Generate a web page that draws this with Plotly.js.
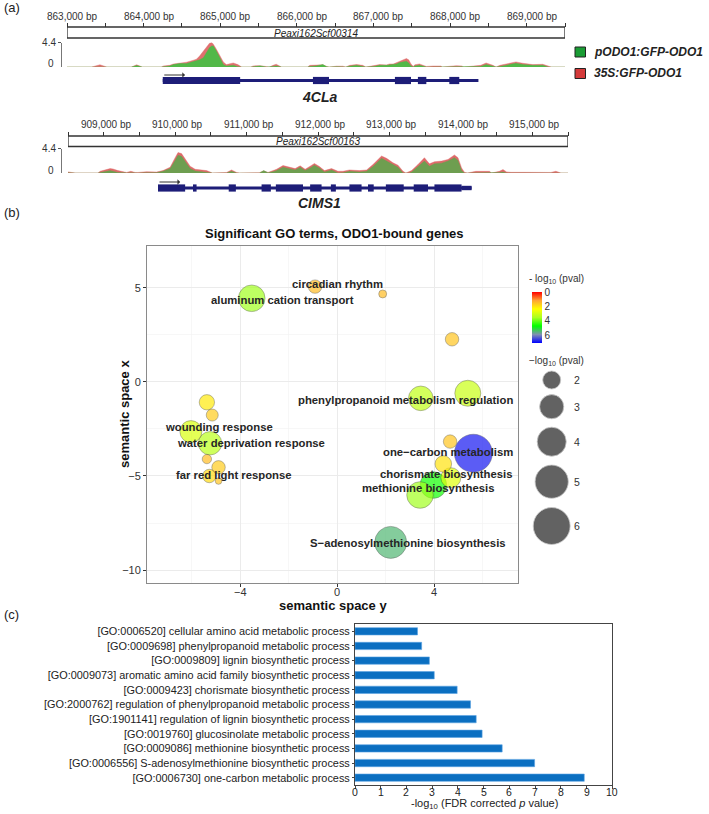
<!DOCTYPE html>
<html><head><meta charset="utf-8">
<script src="https://cdn.plot.ly/plotly-3.0.1.min.js"></script>
<style>html,body{margin:0;padding:0;background:#fff}#chart{width:709px;height:814px}</style>
</head><body><div id="chart"></div>
<script>
// ---------------- Panel (a) data ----------------
const tickValsA = [863000,864000,865000,866000,867000,868000,869000];
const tickTextA = ['863,000 bp','864,000 bp','865,000 bp','866,000 bp','867,000 bp','868,000 bp','869,000 bp'];
const tickValsB = [909000,910000,911000,912000,913000,914000,915000];
const tickTextB = ['909,000 bp','910,000 bp','911,000 bp','912,000 bp','913,000 bp','914,000 bp','915,000 bp'];
const scaffoldA = 'Peaxi162Scf00314';
const scaffoldB = 'Peaxi162Scf00163';
const geneA = '4CLa';
const geneB = 'CIMS1';
const seriesNames = ['pODO1:GFP-ODO1','35S:GFP-ODO1'];

const posA = [863000,863320,863430,863520,863840,863910,863980,864230,864260,864290,864340,864390,864470,864560,864650,864690,864730,864780,864820,864860,864890,864910,864950,865000,865040,865080,865120,865170,865230,865280,865400,865430,865520,865600,865640,865690,865730,865800,866140,866170,866250,866340,866390,866420,866520,866600,866640,866690,866780,866860,866900,867010,867080,867170,867210,867260,867300,867340,867390,867430,867460,867490,867520,867540,867600,867650,867690,867780,867880,867900,868010,868080,868150,868180,868400,868470,868560,868600,868650,868730,868860,868950,869080,869210,869280,869320,869500];
const redA = [0,0,.4,0,0,.4,0,0,.2,.2,.3,.55,.73,.86,1.22,1.41,1.96,2.87,3.48,4.28,4.4,4.09,3.18,1.96,.92,.43,.61,.73,.43,0,0,.2,.24,.15,0,.3,.5,0,0,.3,.35,.4,.1,0,.15,.15,0,.3,.45,.3,0,.25,.43,.37,.55,.55,.79,1.04,1.22,1.53,1.28,.55,.1,.4,.55,.3,.1,.18,.18,0,.2,.24,.2,0,.3,.73,.3,0,.3,.55,.92,.67,.43,.49,.1,0,0];
const greenA = [0,0,.1,0,0,.25,0,0,.1,.1,.18,.43,.61,.61,.98,1.16,1.28,1.65,2.57,3.48,3.79,3.79,2.87,1.65,.43,.18,.18,.31,.06,0,0,.05,.2,0,0,.1,.2,0,0,.1,.2,.43,.05,0,.05,.05,0,.15,.31,.1,0,.1,.31,.31,.37,.37,.55,.79,.92,1.04,.73,.18,0,.2,.31,.1,0,0,0,0,.05,.1,0,0,.1,.43,.1,0,.1,.3,.67,.43,.3,.31,0,0,0];

const posB = [908500,908600,908920,908950,909090,909130,909200,909300,909320,909380,909440,909480,909600,909720,909740,909830,909930,910000,910040,910090,910140,910210,910280,910350,910440,910490,910520,910720,910790,910860,910900,911180,911240,911300,911370,911420,911510,911600,911680,911750,911820,911890,911950,912020,912090,912190,912280,912350,912440,912580,912680,912770,912890,912960,913050,913120,913190,913230,913280,913310,913400,913490,913560,913630,913730,913820,913910,913960,914010,914050,914090,914210,914400,914430,914540,914590,914640,914700,914900,915100,915130,915260,915330,915400,915500];
const redB = [.2,0,0,.31,.79,.73,.43,.24,.1,.31,.1,.1,.24,.2,.18,.43,1.04,2.75,3.67,3.48,2.44,1.22,.67,.55,.43,.18,0,.1,.55,.1,0,.05,.37,.1,.43,.67,1.34,1.04,.79,1.28,.67,1.22,1.71,1.16,.43,.79,.31,.31,.55,.43,.55,1.53,3.06,2.63,1.83,1.41,.31,0,.2,.43,1.53,2.75,1.65,2.02,2.14,2.44,3.24,2.75,.92,.12,0,.3,.3,0,.3,.61,.2,.12,.12,.12,0,.1,.31,0,0];
const greenB = [.05,0,0,.1,.43,.3,.1,.05,0,.05,0,0,.05,0,.06,.31,.79,2.26,3.18,2.99,2.02,.79,.37,.24,.18,0,0,0,.31,0,0,0,.43,.05,.24,.43,1.04,.79,.55,1.04,.43,.92,1.41,.92,.18,.55,0,.06,.31,.18,.31,1.16,2.63,2.14,1.53,1.04,0,0,0,.18,1.16,2.14,1.22,1.65,1.77,2.14,2.75,2.26,.43,0,0,0,0,0,.1,.18,0,0,0,0,0,0,.1,0,0];

const geneSpanA = [864250, 868370];
const exonStartA = [864250,866210,867280,867580,867990];
const exonEndA   = [865260,866420,867490,867690,868120];
const arrowA = [864250, 864540];
const geneSpanB = [909760, 914150];
const exonStartB = [909760,910250,910750,911210,911410,911890,912180,912440,912700,912950,913340,913630];
const exonEndB   = [910140,910300,910850,911340,911790,912050,912250,912610,912780,913200,913540,914010];
const utrStartB = [914010], utrEndB = [914150];
const arrowB = [909760, 910070];

// ---------------- Panel (b) data ----------------
const bubbleX = [5.62,2.21,-3.52,3.97,3.42,5.39,3.45,-5.24,-6.03,4.69,4.38,-5.37,-0.91,4.74,-4.89,-5.27,4.66,-5.15,-5.37,1.88,-4.89];
const bubbleY = [-3.79,-8.53,4.45,-5.48,-6.01,-0.60,-0.87,-3.26,-2.64,-5.09,-4.36,-1.08,5.07,2.27,-4.54,-5.00,-3.17,-1.76,-4.10,4.68,-5.27];
const bubbleLogP = [6.9,5.5,3.6,4.6,3.6,3.1,3.2,3.3,2.9,2.8,2.0,2.1,1.5,1.6,1.7,1.9,1.6,1.7,1.5,1.5,1.6];
const bubbleSizeVal = [6.3,4.69,3.48,3.48,3.48,3.35,3.08,2.86,2.62,2.29,1.81,1.66,1.45,1.45,1.45,1.45,1.45,1.31,1.09,1.0,0.92];
const termLabels = ['circadian rhythm','aluminum cation transport','phenylpropanoid metabolism regulation','wounding response','water deprivation response','far red light response','one\u2212carbon metabolism','chorismate biosynthesis','methionine biosynthesis','S\u2212adenosylmethionine biosynthesis'];
const termLabelX = [0.0,-2.25,2.80,-4.87,-3.54,-4.26,4.56,4.47,3.75,2.92];
const termLabelY = [5.21,4.36,-0.97,-2.38,-3.23,-4.95,-3.71,-4.91,-5.64,-8.55];
const semXTicks = [-4,0,4];
const sizeKeyVals = [2,3,4,5,6];
const colorKeyVals = [0,2,4,6];

// ---------------- Panel (c) data ----------------
const goLabels = [
"[GO:0006520] cellular amino acid metabolic process",
"[GO:0009698] phenylpropanoid metabolic process",
"[GO:0009809] lignin biosynthetic process",
"[GO:0009073] aromatic amino acid family biosynthetic process",
"[GO:0009423] chorismate biosynthetic process",
"[GO:2000762] regulation of phenylpropanoid metabolic process",
"[GO:1901141] regulation of lignin biosynthetic process",
"[GO:0019760] glucosinolate metabolic process",
"[GO:0009086] methionine biosynthetic process",
"[GO:0006556] S-adenosylmethionine biosynthetic process",
"[GO:0006730] one-carbon metabolic process"];
const goValues = [2.43,2.59,2.89,3.08,3.97,4.49,4.71,4.94,5.72,6.98,8.91];
const barTicks = [0,1,2,3,4,5,6,7,8,9,10];

// ---------------- layout helpers ----------------
const W = 709, H = 814;
const FONT = 'Liberation Sans, Arial, Helvetica, sans-serif';
const px = x => x / W;
const py = y => 1 - y / H;
const sizeScale = v => 2 * Math.sqrt(Math.max(65 * v - 49, 4));

const annotations = [];
const shapes = [];
function txt(text, x, y, opt) {
  opt = opt || {};
  annotations.push(Object.assign({
    text: text, x: px(x), y: py(y), xref: 'paper', yref: 'paper',
    showarrow: false, xanchor: 'center', yanchor: 'middle',
    font: Object.assign({family: FONT, size: 10, color: '#333'}, opt.font || {})
  }, opt.extra || {}));
}

// Panel labels
txt('(a)', 2, 8, {font: {size: 13, color: '#222'}, extra: {xanchor: 'left'}});
txt('(b)', 2, 213, {font: {size: 13, color: '#222'}, extra: {xanchor: 'left'}});
txt('(c)', 2, 614, {font: {size: 13, color: '#222'}, extra: {xanchor: 'left'}});

function trackDecor(xref, range, boxTop, boxBot, scaf, zeroY, geneSpan, es, ee, us, ue, arrow, arrowY, geneY, geneName, geneLabelY, tv, tt, tickY, shift) {
  shapes.push({type: 'rect', xref: xref, yref: 'paper', x0: range[0], x1: range[1], y0: py(boxTop), y1: py(boxBot), line: {color: '#333', width: 1.3}, fillcolor: 'rgba(0,0,0,0)'});
  const xa = xref === 'x' ? [67, 565] : [68, 568];
  txt(scaf, (xa[0] + xa[1]) / 2, (boxTop + boxBot) / 2 + 0.5, {font: {size: 10, color: '#222', style: 'italic'}});
  txt('0', 56, zeroY, {font: {size: 10, color: '#333'}, extra: {xanchor: 'right'}});
  for (let i = 0; i < tv.length; i++) {
    annotations.push({text: tt[i], x: tv[i], y: py(tickY), xref: xref, yref: 'paper', showarrow: false, xanchor: 'center', yanchor: 'middle',
      xshift: shift, font: {family: FONT, size: 10, color: '#333'}});
  }
  shapes.push({type: 'line', xref: xref, yref: 'paper', x0: geneSpan[0], x1: geneSpan[1], y0: py(geneY), y1: py(geneY), line: {color: '#1d1d78', width: 3}});
  for (let i = 0; i < es.length; i++) {
    shapes.push({type: 'rect', xref: xref, yref: 'paper', x0: es[i], x1: ee[i], y0: py(geneY - 3.6), y1: py(geneY + 3.6), line: {width: 0}, fillcolor: '#1d1d78'});
  }
  for (let i = 0; i < us.length; i++) {
    shapes.push({type: 'rect', xref: xref, yref: 'paper', x0: us[i], x1: ue[i], y0: py(geneY - 2.2), y1: py(geneY + 2.2), line: {width: 0}, fillcolor: '#1d1d78'});
  }
  annotations.push({x: arrow[1], y: py(arrowY), xref: xref, yref: 'paper', ax: arrow[0], ay: py(arrowY), axref: xref, ayref: 'paper',
    showarrow: true, arrowhead: 1, arrowsize: 0.9, arrowwidth: 1, arrowcolor: '#333', text: ''});
  txt(geneName, 319, geneLabelY, {font: {size: 14, color: '#222', style: 'italic', weight: 'bold'}});
}
trackDecor('x', [863000, 869500], 27, 38, scaffoldA, 64, geneSpanA, exonStartA, exonEndA, [], [], arrowA, 75, 80.5, geneA, 97, tickValsA, tickTextA, 17, 5);
trackDecor('x2', [908500, 915500], 136, 146.5, scaffoldB, 170, geneSpanB, exonStartB, exonEndB, utrStartB, utrEndB, arrowB, 182, 188, geneB, 203, tickValsB, tickTextB, 124, 2);

// Legend (a)
const legColors = ['#1a9c34', '#d43a3a'];
const legY = [52, 73.5];
for (let i = 0; i < 2; i++) {
  shapes.push({type: 'rect', xref: 'paper', yref: 'paper', x0: px(575), x1: px(585.5), y0: py(legY[i] - 5), y1: py(legY[i] + 5), line: {color: '#222', width: 1}, fillcolor: legColors[i]});
  txt(seriesNames[i], 592, legY[i], {font: {size: 12, color: '#222', style: 'italic', weight: 'bold'}, extra: {xanchor: 'left'}});
}

// Panel (b) text
txt('Significant GO terms, ODO1-bound genes', 334, 233, {font: {size: 13, color: '#111', weight: 'bold'}});
for (let i = 0; i < semXTicks.length; i++) {
  annotations.push({text: String(semXTicks[i]).replace('-', '\u2212'), x: semXTicks[i], y: py(591.5), xref: 'x3', yref: 'paper', showarrow: false,
    xanchor: 'center', yanchor: 'middle', font: {family: FONT, size: 11, color: '#333'}});
}
txt('semantic space y', 333, 605, {font: {size: 13, color: '#111', weight: 'bold'}});
txt('semantic space x', 124, 414, {font: {size: 13, color: '#111', weight: 'bold'}, extra: {textangle: -90}});
for (let i = 0; i < termLabels.length; i++) {
  annotations.push({text: termLabels[i], x: termLabelX[i], y: termLabelY[i], xref: 'x3', yref: 'y3', showarrow: false,
    xanchor: 'center', yanchor: 'middle', font: {family: FONT, size: 11.3, color: '#262626', weight: 'bold'}});
}
txt('- log<sub>10</sub> (pval)', 527, 279, {font: {size: 10, color: '#333'}, extra: {xanchor: 'left'}});
txt('\u2212log<sub>10</sub> (pval)', 527, 361, {font: {size: 10, color: '#333'}, extra: {xanchor: 'left'}});
const keyCenters = [380, 406.7, 441.7, 481.7, 526];
for (let i = 0; i < sizeKeyVals.length; i++) {
  txt(String(sizeKeyVals[i]), 577, keyCenters[i], {font: {size: 10.5, color: '#333'}});
}

// Panel (c) text
for (let i = 0; i < barTicks.length; i++) {
  annotations.push({text: String(barTicks[i]), x: barTicks[i], y: py(792), xref: 'x4', yref: 'paper', showarrow: false,
    xanchor: 'center', yanchor: 'middle', font: {family: FONT, size: 10.5, color: '#222'}});
}
txt('-log<sub>10</sub> (FDR corrected <i>p</i> value)', 484, 804, {font: {size: 11, color: '#222'}});

// ---------------- traces ----------------
const traces = [];
traces.push({x: posA, y: redA, xaxis: 'x', yaxis: 'y', type: 'scatter', mode: 'lines', fill: 'tozeroy', line: {width: 0.4, color: '#e07070'}, fillcolor: '#e07070', hoverinfo: 'skip'});
traces.push({x: posA, y: greenA, xaxis: 'x', yaxis: 'y', type: 'scatter', mode: 'lines', fill: 'tozeroy', line: {width: 0.4, color: '#52b848'}, fillcolor: '#52b848', hoverinfo: 'skip'});
traces.push({x: posB, y: redB, xaxis: 'x2', yaxis: 'y2', type: 'scatter', mode: 'lines', fill: 'tozeroy', line: {width: 0.4, color: '#df6a6a'}, fillcolor: '#df6a6a', hoverinfo: 'skip'});
traces.push({x: posB, y: greenB, xaxis: 'x2', yaxis: 'y2', type: 'scatter', mode: 'lines', fill: 'tozeroy', line: {width: 0.4, color: '#6e9e50'}, fillcolor: '#6e9e50', hoverinfo: 'skip'});

traces.push({x: bubbleX, y: bubbleY, xaxis: 'x3', yaxis: 'y3', type: 'scatter', mode: 'markers',
  marker: {size: bubbleSizeVal.map(sizeScale), sizemode: 'diameter', opacity: 0.7,
    color: bubbleLogP.map(v => -v), cmin: -7.1, cmax: 0,
    colorscale: [[0,'#0000ff'],[0.165,'#7f8fb3'],[0.333,'#00ff00'],[0.5,'#aaff22'],[0.667,'#ffff00'],[0.833,'#ffa533'],[1,'#ff0000']],
    line: {color: 'rgba(40,40,40,0.55)', width: 0.8},
    colorbar: {x: px(532), xanchor: 'left', y: py(292), yanchor: 'top', len: 51, lenmode: 'pixels', thickness: 10, thicknessmode: 'pixels',
      xpad: 0, ypad: 0, outlinewidth: 0, tickmode: 'array', tickvals: colorKeyVals.map(v => -v), ticktext: colorKeyVals.map(String),
      ticks: '', tickfont: {family: FONT, size: 10, color: '#333'}}},
  hoverinfo: 'skip'});

traces.push({x: sizeKeyVals.map(() => 551.7), y: keyCenters, xaxis: 'x5', yaxis: 'y5', type: 'scatter', mode: 'markers',
  marker: {size: sizeKeyVals.map(sizeScale), sizemode: 'diameter', opacity: 1, color: '#626262', line: {width: 0.8, color: '#c8c8c8'}}, hoverinfo: 'skip', cliponaxis: false});

traces.push({x: goValues, y: goLabels, xaxis: 'x4', yaxis: 'y4', type: 'bar', orientation: 'h', width: 0.5,
  marker: {color: '#0b6fc1', line: {color: '#5aa2e2', width: 0.6}}, hoverinfo: 'skip'});

// ---------------- layout ----------------
const tickFontA = {family: FONT, size: 10, color: '#333'};
const layout = {
  width: W, height: H, margin: {l: 0, r: 0, t: 0, b: 0}, paper_bgcolor: '#fff', plot_bgcolor: 'rgba(0,0,0,0)',
  showlegend: false, font: {family: FONT},
  xaxis: {domain: [px(67), px(565)], range: [863000, 869500], anchor: 'free', position: py(27), side: 'top',
    tickmode: 'array', tickvals: tickValsA, showticklabels: false, ticks: 'outside', ticklen: 4, tickcolor: '#333',
    minor: {tickmode: 'linear', tick0: 863000, dtick: 500, ticks: 'outside', ticklen: 4, tickcolor: '#333'},
    showgrid: false, zeroline: false, showline: false, fixedrange: true},
  yaxis: {domain: [py(67), py(42.5)], range: [0, 4.4], anchor: 'free', position: px(61),
    tickmode: 'array', tickvals: [4.4], ticktext: ['4.4'], ticks: 'outside', ticklen: 3, tickcolor: '#555',
    showline: true, linecolor: '#777', linewidth: 1, showgrid: false, zeroline: false, tickfont: tickFontA, fixedrange: true},
  xaxis2: {domain: [px(68), px(568)], range: [908500, 915500], anchor: 'free', position: py(136), side: 'top',
    tickmode: 'array', tickvals: tickValsB, showticklabels: false, ticks: 'outside', ticklen: 4, tickcolor: '#333',
    minor: {tickmode: 'linear', tick0: 908500, dtick: 500, ticks: 'outside', ticklen: 4, tickcolor: '#333'},
    showgrid: false, zeroline: false, showline: false, fixedrange: true},
  yaxis2: {domain: [py(173), py(148.5)], range: [0, 4.4], anchor: 'free', position: px(61),
    tickmode: 'array', tickvals: [4.4], ticktext: ['4.4'], ticks: 'outside', ticklen: 3, tickcolor: '#555',
    showline: true, linecolor: '#777', linewidth: 1, showgrid: false, zeroline: false, tickfont: tickFontA, fixedrange: true},
  xaxis3: {domain: [px(147), px(518)], range: [-7.84, 7.46], anchor: 'y3', tick0: 0, dtick: 4, showticklabels: false,
    showgrid: true, gridcolor: '#ebebeb', gridwidth: 1, minor: {tick0: 0, dtick: 2, showgrid: true, gridcolor: '#f2f2f2', gridwidth: 0.6},
    zeroline: false, showline: true, mirror: true, linecolor: '#8a8a8a', linewidth: 1,
    ticks: 'outside', ticklen: 3, tickcolor: '#333', fixedrange: true},
  yaxis3: {domain: [py(583), py(246)], range: [-10.69, 7.23], anchor: 'x3', tick0: 0, dtick: 5,
    showgrid: true, gridcolor: '#ebebeb', gridwidth: 1, minor: {tick0: 0, dtick: 2.5, showgrid: true, gridcolor: '#f2f2f2', gridwidth: 0.6},
    zeroline: false, showline: true, mirror: true, linecolor: '#8a8a8a', linewidth: 1,
    ticks: 'outside', ticklen: 3, tickcolor: '#333', tickfont: {family: FONT, size: 11, color: '#333'}, fixedrange: true},
  xaxis4: {domain: [px(355), px(612.3)], range: [0, 10], anchor: 'y4', tickmode: 'array', tickvals: barTicks, showticklabels: false,
    showgrid: false, zeroline: false, showline: true, mirror: true, linecolor: '#444', linewidth: 1,
    ticks: 'outside', ticklen: 3, tickcolor: '#444', fixedrange: true},
  yaxis4: {domain: [py(785), py(624)], type: 'category', autorange: 'reversed', anchor: 'x4',
    showgrid: false, zeroline: false, showline: true, mirror: true, linecolor: '#444', linewidth: 1,
    ticks: 'outside', ticklen: 2, tickcolor: '#444', tickfont: {family: FONT, size: 10.9, color: '#222'}, fixedrange: true},
  xaxis5: {domain: [0, 1], range: [0, W], anchor: 'y5', visible: false, fixedrange: true},
  yaxis5: {domain: [0, 1], range: [H, 0], anchor: 'x5', visible: false, fixedrange: true},
  shapes: shapes, annotations: annotations
};
Plotly.newPlot('chart', traces, layout, {staticPlot: true, displayModeBar: false});
</script></body></html>
